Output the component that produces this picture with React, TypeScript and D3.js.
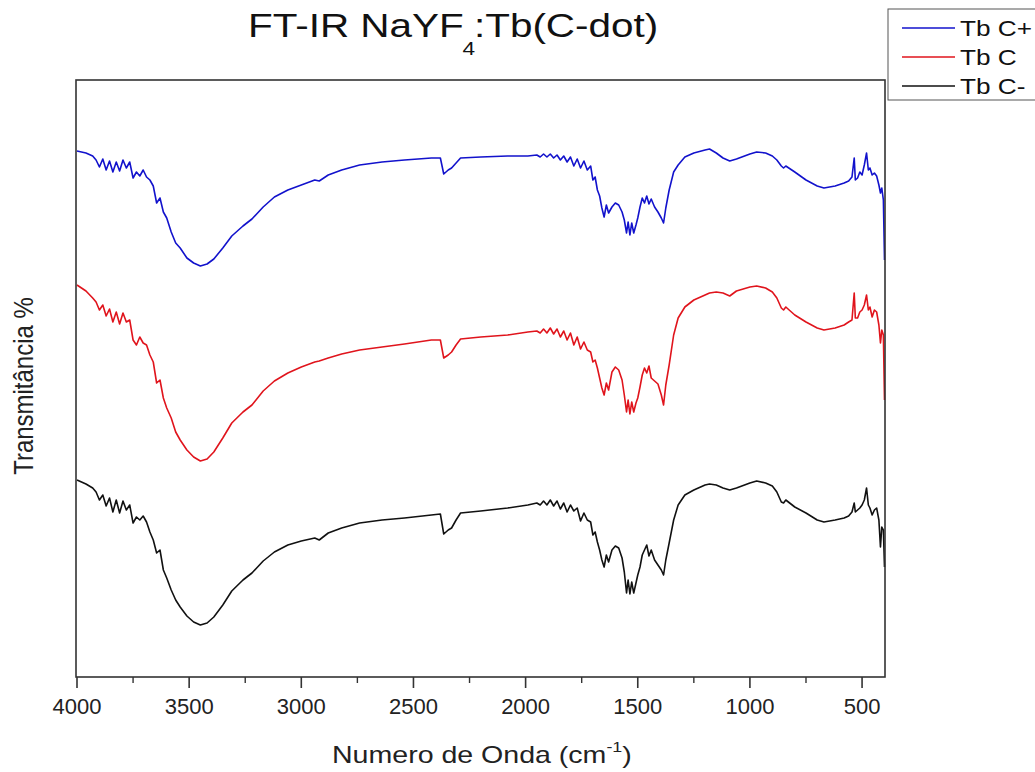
import React from "react";
import * as d3 from "d3";

// Wavenumber (cm^-1)
const wavenumbers = [
  4000,3960,3930,3915,3900,3885,3870,3855,3840,3825,
  3810,3795,3780,3765,3750,3735,3720,3705,3690,3675,
  3660,3645,3630,3615,3600,3580,3560,3540,3510,3480,
  3450,3420,3390,3350,3310,3260,3220,3170,3120,3060,
  3000,2940,2920,2880,2820,2740,2640,2540,2420,2380,
  2365,2345,2330,2310,2290,2200,2080,1990,1950,1935,
  1920,1905,1890,1875,1860,1845,1830,1815,1800,1785,
  1770,1755,1740,1725,1710,1700,1690,1680,1670,1660,
  1650,1640,1630,1615,1600,1585,1570,1560,1550,1543,
  1535,1527,1518,1508,1500,1490,1480,1470,1460,1450,
  1440,1425,1410,1395,1385,1375,1360,1340,1320,1290,
  1250,1200,1180,1150,1120,1090,1060,1000,970,930,
  900,880,860,850,840,800,750,700,670,620,
  580,560,545,535,530,520,510,500,490,480,
  472,465,455,445,435,425,418,412,405,400,
];

// Transmittance (a.u., stacked)
const tbCPlus = [
  105.2,104.8,104.2,103.4,102.0,103.6,101.4,103.2,101.0,103.0,
  101.2,103.4,101.8,103.0,99.8,101.0,100.2,101.4,100.0,99.4,
  98.2,94.8,95.8,93.0,91.8,89.0,86.8,85.8,83.8,82.8,
  82.2,82.6,83.6,85.8,88.2,90.2,91.6,94.0,96.0,97.4,
  98.4,99.4,99.2,100.4,101.4,102.4,103.0,103.4,103.8,103.8,
  100.6,101.4,101.8,102.8,103.8,104.0,104.2,104.2,104.4,104.0,
  104.6,104.0,104.6,103.8,104.4,103.4,104.2,103.0,104.0,102.2,
  103.6,101.8,103.2,101.4,102.2,99.4,100.0,97.4,96.2,93.8,
  92.0,94.4,92.8,94.0,94.8,94.4,93.0,91.4,88.8,91.0,
  88.4,90.8,88.8,90.4,91.8,94.0,95.8,94.8,96.2,94.6,
  95.6,94.0,93.0,91.8,90.8,93.8,97.4,101.0,102.4,104.0,
  104.8,105.4,105.6,104.8,103.8,103.2,103.6,104.6,105.0,104.8,
  104.2,103.4,102.2,101.8,102.2,101.0,99.4,98.2,97.8,98.2,
  98.8,99.2,100.0,103.8,99.4,99.8,101.0,100.4,102.4,104.8,
  101.4,101.8,100.4,100.8,100.2,98.4,96.8,97.8,95.4,83.4,
];

const tbC = [
  78.4,77.2,75.8,75.0,73.4,74.4,72.2,73.6,71.0,73.0,
  70.6,72.8,71.0,71.4,67.4,66.4,68.0,66.8,66.4,64.4,
  63.0,58.8,59.4,55.8,53.8,51.8,49.0,47.4,45.4,44.0,
  43.2,43.6,45.0,47.8,50.8,53.0,54.4,57.2,59.2,60.8,
  62.0,63.0,63.2,63.8,64.6,65.4,66.0,66.6,67.4,67.4,
  63.8,64.4,65.0,66.4,67.6,68.0,68.4,69.0,69.2,68.8,
  69.6,68.8,69.8,68.6,69.6,68.0,69.2,67.4,68.8,66.4,
  68.0,65.6,67.0,65.4,65.0,63.0,63.4,61.8,59.8,57.8,
  56.4,58.8,57.4,61.0,62.0,61.4,59.4,56.4,53.0,55.4,
  52.6,55.0,53.0,54.8,55.8,58.0,60.4,61.8,60.8,62.2,
  59.8,59.2,58.6,56.4,54.4,58.4,62.4,68.4,71.8,74.0,
  75.4,76.4,76.8,77.0,76.8,76.2,77.2,78.0,78.2,77.8,
  77.0,75.8,73.8,73.4,74.0,72.4,71.0,69.8,69.4,69.8,
  70.4,71.0,71.4,76.8,71.8,71.8,73.0,73.4,74.4,76.4,
  73.4,74.0,72.0,73.4,73.0,70.4,66.8,69.4,68.4,55.4,
];

const tbCMinus = [
  39.4,38.6,37.8,37.0,35.4,36.4,34.2,35.8,33.0,35.4,
  32.8,35.2,33.4,34.4,30.8,32.0,31.4,32.2,31.0,29.0,
  27.4,24.8,25.4,21.4,19.8,17.4,15.4,14.0,12.2,11.0,
  10.4,10.8,12.0,14.4,17.2,19.4,20.8,23.2,25.0,26.4,
  27.2,27.8,27.4,28.8,29.8,30.8,31.4,31.8,32.4,32.6,
  28.6,29.4,29.8,31.4,32.8,33.2,33.8,34.4,34.8,34.4,
  35.2,34.4,35.4,34.2,35.2,33.6,34.8,33.0,34.4,33.2,
  33.8,31.2,32.8,31.4,31.0,28.4,29.0,27.0,25.4,23.4,
  22.0,24.4,23.0,25.4,26.2,25.8,23.8,21.0,16.8,19.4,
  16.6,19.0,16.8,18.8,20.4,22.0,24.4,25.4,26.4,24.2,
  25.4,23.4,22.4,21.4,20.4,23.4,26.8,31.4,34.4,36.4,
  37.4,38.4,38.6,38.4,37.8,37.4,37.8,38.8,39.2,38.8,
  38.2,37.0,35.0,34.8,35.4,34.0,32.8,31.4,31.0,31.4,
  31.8,32.2,33.0,34.8,33.0,33.4,33.8,34.4,35.4,37.8,
  34.4,33.8,32.4,33.4,33.8,31.4,26.0,30.0,29.4,22.0,
];

const seriesNames = ["Tb C+", "Tb C", "Tb C-"];
const seriesColors = ["#1212cc", "#e0141c", "#111111"];
const majorTicks = [4000, 3500, 3000, 2500, 2000, 1500, 1000, 500];
const minorTicks = [3750, 3250, 2750, 2250, 1750, 1250, 750];

const W = 1035;
const H = 772;
const M = { left: 77, right: 884.5, top: 80, bottom: 677 };

export default function App() {
  const x = d3.scaleLinear().domain([4000, 400]).range([M.left, M.right]);
  const y = d3.scaleLinear().domain([0, 119.4]).range([M.bottom, M.top]);
  const seriesValues = [tbCPlus, tbC, tbCMinus];
  const line = d3
    .line<number>()
    .x((_, i) => x(wavenumbers[i]))
    .y((d) => y(d));

  const font = "'Liberation Sans', Arial, Helvetica, sans-serif";
  const sx = 1.19;

  return (
    <svg
      width={W}
      height={H}
      style={{ position: "absolute", left: 0, top: 0, background: "#fff" }}
      fontFamily={font}
    >
      <rect x={0} y={0} width={W} height={H} fill="#fff" />
      {/* series */}
      {seriesValues.map((vals, k) => (
        <path
          key={seriesNames[k]}
          d={line(vals) || ""}
          fill="none"
          stroke={seriesColors[k]}
          strokeWidth={1.6}
          strokeLinejoin="round"
        />
      ))}
      {/* frame */}
      <rect
        x={M.left - 1}
        y={M.top}
        width={M.right - M.left + 1.5}
        height={M.bottom - M.top}
        fill="none"
        stroke="#333"
        strokeWidth={1.6}
      />
      {/* x ticks */}
      {majorTicks.map((t) => (
        <g key={t}>
          <line x1={x(t)} x2={x(t)} y1={M.bottom} y2={M.bottom + 11} stroke="#333" strokeWidth={1.6} />
          <text x={x(t)} y={714} fontSize={22} textAnchor="middle" fill="#222">
            {t}
          </text>
        </g>
      ))}
      {minorTicks.map((t) => (
        <line key={t} x1={x(t)} x2={x(t)} y1={M.bottom} y2={M.bottom + 6} stroke="#333" strokeWidth={1.4} />
      ))}
      {/* x label */}
      <g transform={`translate(332,763) scale(${sx},1)`}>
        <text x={0} y={0} fontSize={24} fill="#222">
          Numero de Onda (cm
          <tspan fontSize={15} dy={-11}>-1</tspan>
          <tspan dy={11}>)</tspan>
        </text>
      </g>
      {/* y label */}
      <g transform={`translate(33,386) scale(${sx},1) rotate(-90)`}>
        <text x={0} y={0} fontSize={24} textAnchor="middle" fill="#222">
          Transmitância %
        </text>
      </g>
      {/* title */}
      <g transform={`translate(248,37) scale(${sx},1)`}>
        <text x={0} y={0} fontSize={34} fill="#111">
          FT-IR NaYF
          <tspan fontSize={19} dx={-1} dy={18}>4</tspan>
          <tspan dx={-1} dy={-18}>:Tb(C-dot)</tspan>
        </text>
      </g>
      {/* legend */}
      <rect x={888} y={9} width={170} height={91} fill="#fff" stroke="#555" strokeWidth={1} />
      {seriesNames.map((n, k) => {
        const ly = 28 + k * 29;
        return (
          <g key={n}>
            <line x1={902} x2={955} y1={ly} y2={ly} stroke={seriesColors[k]} strokeWidth={1.5} />
            <g transform={`translate(960,${ly + 8}) scale(${sx},1)`}>
              <text x={0} y={0} fontSize={22} fill="#111">
                {n}
              </text>
            </g>
          </g>
        );
      })}
    </svg>
  );
}
